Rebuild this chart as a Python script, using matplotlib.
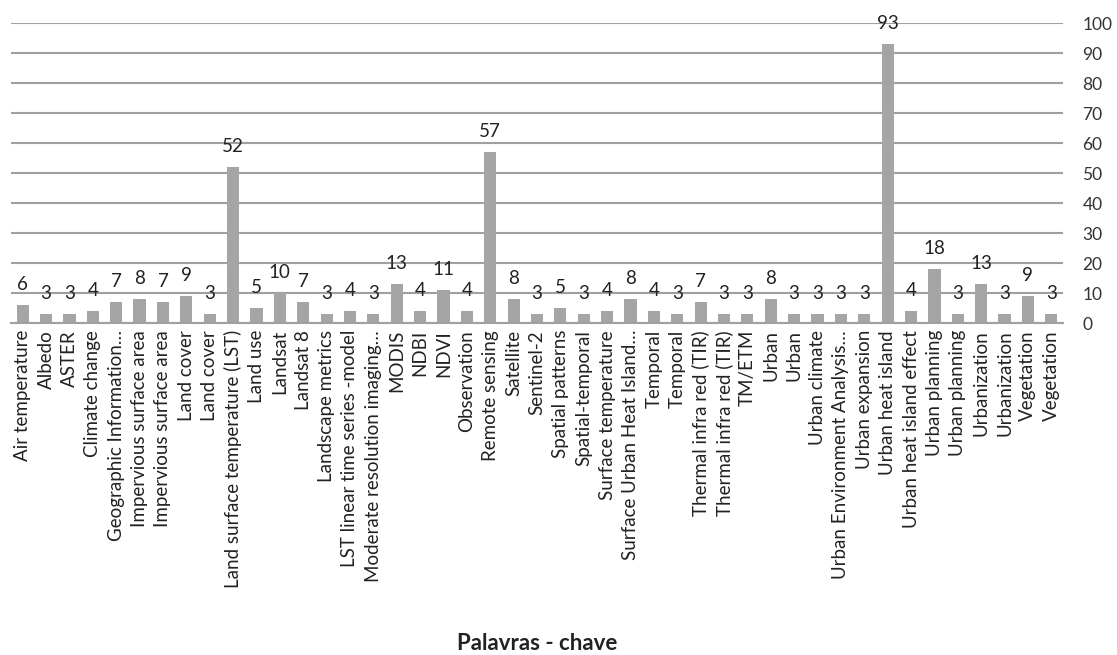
import matplotlib
matplotlib.use("Agg")
import matplotlib.pyplot as plt
import numpy as np

keywords = [
    "Air temperature", "Albedo", "ASTER", "Climate change",
    "Geographic Information…", "Impervious surface area", "Impervious surface area",
    "Land cover", "Land cover", "Land surface temperature (LST)", "Land use",
    "Landsat", "Landsat 8", "Landscape metrics", "LST linear time series -model",
    "Moderate resolution imaging…", "MODIS", "NDBI", "NDVI", "Observation",
    "Remote sensing", "Satellite", "Sentinel-2", "Spatial patterns",
    "Spatial-temporal", "Surface temperature", "Surface Urban Heat Island…",
    "Temporal", "Temporal", "Thermal infra red (TIR)", "Thermal infra red (TIR)",
    "TM/ETM", "Urban", "Urban", "Urban climate", "Urban Environment Analysis…",
    "Urban expansion", "Urban heat island", "Urban heat island effect",
    "Urban planning", "Urban planning", "Urbanization", "Urbanization",
    "Vegetation", "Vegetation",
]
counts = [
    6, 3, 3, 4, 7, 8, 7, 9, 3, 52, 5, 10, 7, 3, 4, 3, 13, 4, 11, 4,
    57, 8, 3, 5, 3, 4, 8, 4, 3, 7, 3, 3, 8, 3, 3, 3, 3, 93, 4, 18,
    3, 13, 3, 9, 3,
]
y_ticks = list(range(0, 101, 10))
x_title = "Palavras - chave"

plt.rcParams["font.family"] = ["Lato", "DejaVu Sans"]

W, H = 1117, 655
fig = plt.figure(figsize=(W / 100, H / 100), dpi=100)
ax = fig.add_axes([11 / W, 1 - 323 / H, (1063 - 11) / W, 300 / H])

x = np.arange(len(keywords))
ax.bar(x, counts, width=0.52, color="#a5a5a5", zorder=2)

# value label above each bar
for xi, v in zip(x, counts):
    ax.text(xi, v + 4, str(v), ha="center", va="bottom", fontsize=13.5,
            color="#222222", zorder=3, clip_on=False)

ax.set_xlim(-0.5, len(keywords) - 0.5)
ax.set_ylim(0, 100)
ax.set_yticks(y_ticks)
ax.yaxis.tick_right()
ax.tick_params(axis="y", length=0, pad=14, labelsize=12.5, labelcolor="#333333")
ax.grid(axis="y", color="#a0a0a0", linewidth=1.5, zorder=0)
ax.set_axisbelow(True)

ax.set_xticks(x)
ax.set_xticklabels(keywords, rotation=90, ha="center", va="top",
                   fontsize=13.5, color="#222222")
ax.tick_params(axis="x", length=0, pad=5)

for s in ["top", "left", "right"]:
    ax.spines[s].set_visible(False)
ax.spines["bottom"].set_color("#a0a0a0")
ax.spines["bottom"].set_linewidth(1.5)

fig.text(((11 + 1063) / 2) / W, 1 - 643 / H, x_title, ha="center", va="center",
         fontsize=16, fontweight="bold", color="#222222")

fig.savefig("out.png", dpi=100, facecolor="white")
